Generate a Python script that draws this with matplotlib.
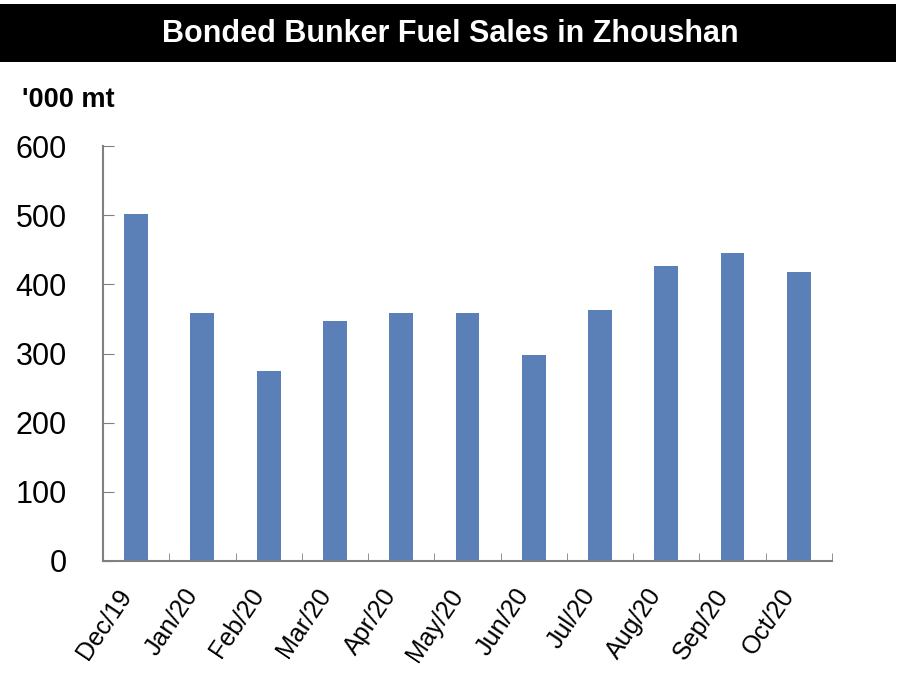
import numpy as np
import matplotlib.pyplot as plt
import matplotlib.transforms as mtransforms
from matplotlib.patches import Rectangle

# monthly bonded bunker sales, '000 mt
months = ['Dec/19', 'Jan/20', 'Feb/20', 'Mar/20', 'Apr/20', 'May/20',
          'Jun/20', 'Jul/20', 'Aug/20', 'Sep/20', 'Oct/20']
sales = [502, 359, 275, 347, 359, 359, 298, 363, 426, 445, 418]
yticks = [0, 100, 200, 300, 400, 500, 600]

plt.rcParams['font.family'] = ['Liberation Sans', 'DejaVu Sans']

fig = plt.figure(figsize=(9, 7), dpi=100)

# black title band
fig.patches.append(Rectangle((0, 0.912), 0.995, 0.082, transform=fig.transFigure,
                             facecolor='black', edgecolor='none'))
fig.text(0.5, 0.951, 'Bonded Bunker Fuel Sales in Zhoushan', color='white',
         fontsize=22, fontweight='bold', ha='center', va='center')
fig.text(0.024, 0.857, "'000 mt", fontsize=19.5, fontweight='bold', ha='left', va='center')

ax = fig.add_axes([0.1144, 0.199, 0.81, 0.592])
x = np.arange(len(months))
ax.bar(x, sales, width=0.36, color='#5b80b8')

ax.set_xlim(-0.5, len(months) - 0.5)
ax.set_ylim(0, 600)
ax.set_yticks(yticks)
ax.set_yticklabels([str(v) for v in yticks], fontsize=22)
ax.set_xticks(x)
ax.set_xticklabels(months, rotation=56, ha='right', rotation_mode='anchor', fontsize=18)
ax.set_xticks(np.arange(len(months) + 1) - 0.5, minor=True)
ax.tick_params(axis='x', which='major', length=0, pad=17)
ax.tick_params(axis='x', which='minor', direction='in', length=6, color='#808080')
ax.tick_params(axis='y', direction='in', length=8, color='#808080', pad=26)

# nudge the slanted month labels left a little
shift = mtransforms.ScaledTranslation(-14 / 72, 0, fig.dpi_scale_trans)
for lbl in ax.get_xticklabels():
    lbl.set_transform(lbl.get_transform() + shift)

for s in ['top', 'right']:
    ax.spines[s].set_visible(False)
for s in ['left', 'bottom']:
    ax.spines[s].set_color('#808080')
    ax.spines[s].set_linewidth(1.5)

plt.savefig('out.png', dpi=100)
